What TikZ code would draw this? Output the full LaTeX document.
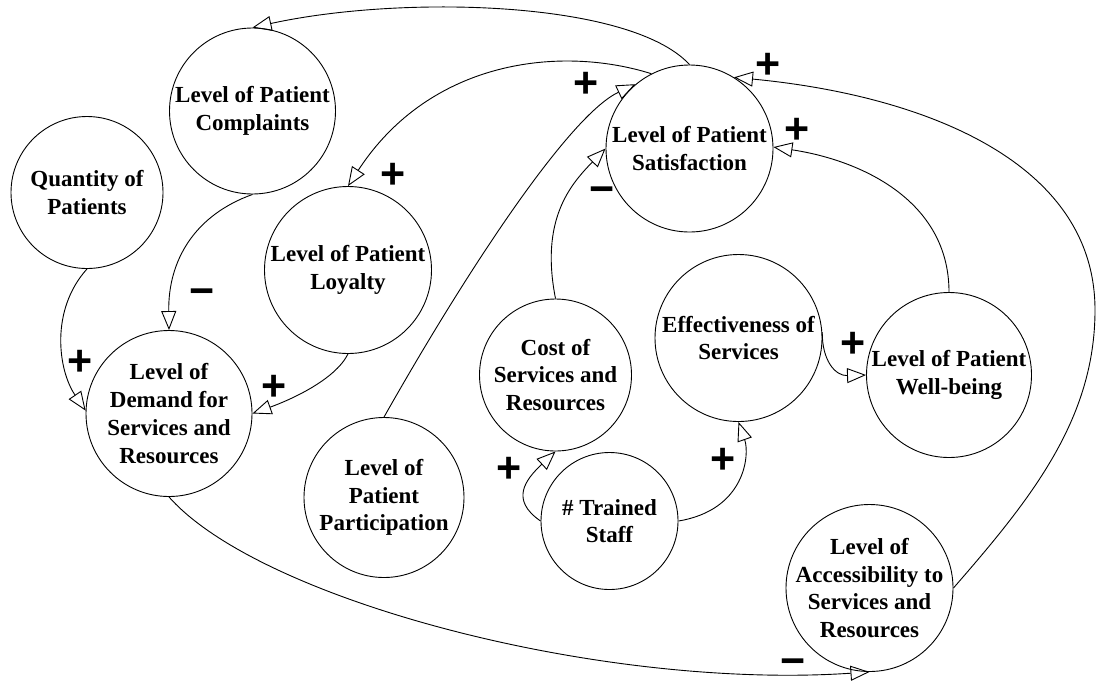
\documentclass[tikz,border=0pt]{standalone}
\usepackage{fontspec}
\setmainfont{Liberation Serif}
\newfontfamily\signfont{Liberation Sans}
\usetikzlibrary{arrows.meta}
\begin{document}
\begin{tikzpicture}[x=1pt,y=-1pt,
  var/.style={circle, draw, line width=0.9pt, inner sep=0pt},
  vartext/.style={align=center, inner sep=0pt, font=\bfseries\fontsize{23}{27.7}\selectfont},
  link/.style={line width=0.9pt, -{Triangle[open, length=19pt, width=15pt]}},
  polarity/.style={inner sep=0pt, text height=30pt, text depth=0pt,
    font=\signfont\bfseries\fontsize{43}{43}\selectfont}]
\fill[white] (0,0) rectangle (1097,681);
\useasboundingbox (0,0) rectangle (1097,681);

% variables
\node[var, minimum size=166pt] (comp)  at (252.5,111)   {};
\node[var, minimum size=152pt] (qty)   at (87,192.5)    {};
\node[var, minimum size=167pt] (loy)   at (348,270)     {};
\node[var, minimum size=166pt] (dem)   at (169,413.5)   {};
\node[var, minimum size=160pt] (par)   at (384,497.5)   {};
\node[var, minimum size=152pt] (cost)  at (555.5,375)   {};
\node[var, minimum size=137pt] (staff) at (609.5,521)   {};
\node[var, minimum size=167pt] (eff)   at (738.5,338)   {};
\node[var, minimum size=165pt] (wb)    at (949,375)     {};
\node[var, minimum size=167pt] (sat)   at (689.5,148.5) {};
\node[var, minimum size=167pt] (acc)   at (869.5,588)   {};

\node[vartext] (comp-t)  at (comp.center)  {Level of Patient\\Complaints};
\node[vartext] (qty-t)   at (qty.center)   {Quantity of\\Patients};
\node[vartext] (loy-t)   at (loy.center)   {Level of Patient\\Loyalty};
\node[vartext] (dem-t)   at (dem.center)   {Level of\\Demand for\\Services and\\Resources};
\node[vartext] (par-t)   at (par.center)   {Level of\\Patient\\Participation};
\node[vartext] (cost-t)  at (cost.center)  {Cost of\\Services and\\Resources};
\node[vartext] (staff-t) at (staff.center) {\# Trained\\Staff};
\node[vartext] (eff-t)   at (eff.center)   {Effectiveness of\\Services};
\node[vartext] (wb-t)    at (wb.center)    {Level of Patient\\Well-being};
\node[vartext] (sat-t)   at (sat.center)   {Level of Patient\\Satisfaction};
\node[vartext] (acc-t)   at (acc.center)   {Level of\\Accessibility to\\Services and\\Resources};

% causal links
\draw[link] (sat.north) .. controls (630,0) and (400,-5) .. (comp.north);
\draw[link] (sat.117) .. controls (560,45) and (430,60) .. (loy.north);
\draw[link] (par.north) .. controls (470,265) and (570,115) .. (sat.130);
\draw[link] (cost.north) .. controls (540,220) and (570,185) .. (sat.180);
\draw[link] (wb.north) .. controls (949,200) and (860,160) .. (sat.1);
\coordinate (accbend) at (1095,310);
\draw[link] (acc.east) .. controls (1030,500) and (1095,420) .. (accbend)
  .. controls (1095,160) and (920,95) .. (sat.58);
\draw[link] (dem.south) .. controls (260,600) and (600,690) .. (acc.south);
\draw[link] (comp.south) .. controls (195,215) and (168,260) .. (dem.north);
\draw[link] (qty.south) .. controls (50,310) and (58,370) .. (dem.178);
\draw[link] (loy.south) .. controls (335,380) and (290,400) .. (dem.0);
\draw[link] (staff.west) .. controls (510,500) and (525,480) .. (cost.south);
\draw[link] (staff.east) .. controls (745,510) and (750,455) .. (eff.south);
\draw[link] (eff.4) .. controls (822,360) and (835,376) .. (wb.west);

% polarities
\node[polarity] (p-loy)   at (393,173) {+};
\node[polarity] (p-par)   at (586,82)  {+};
\node[polarity] (p-acc)   at (768,63)  {+};
\node[polarity] (p-wb)    at (797,128) {+};
\node[polarity] (p-cost)  at (602,188) {−};
\node[polarity] (p-comp)  at (202,290) {−};
\node[polarity] (p-qty)   at (80,360)  {+};
\node[polarity] (p-ldem)  at (274,385) {+};
\node[polarity] (p-staff) at (509,467) {+};
\node[polarity] (p-eff)   at (723,458) {+};
\node[polarity] (p-ewb)   at (853,342) {+};
\node[polarity] (p-dem)   at (793,660) {−};
\end{tikzpicture}
\end{document}
